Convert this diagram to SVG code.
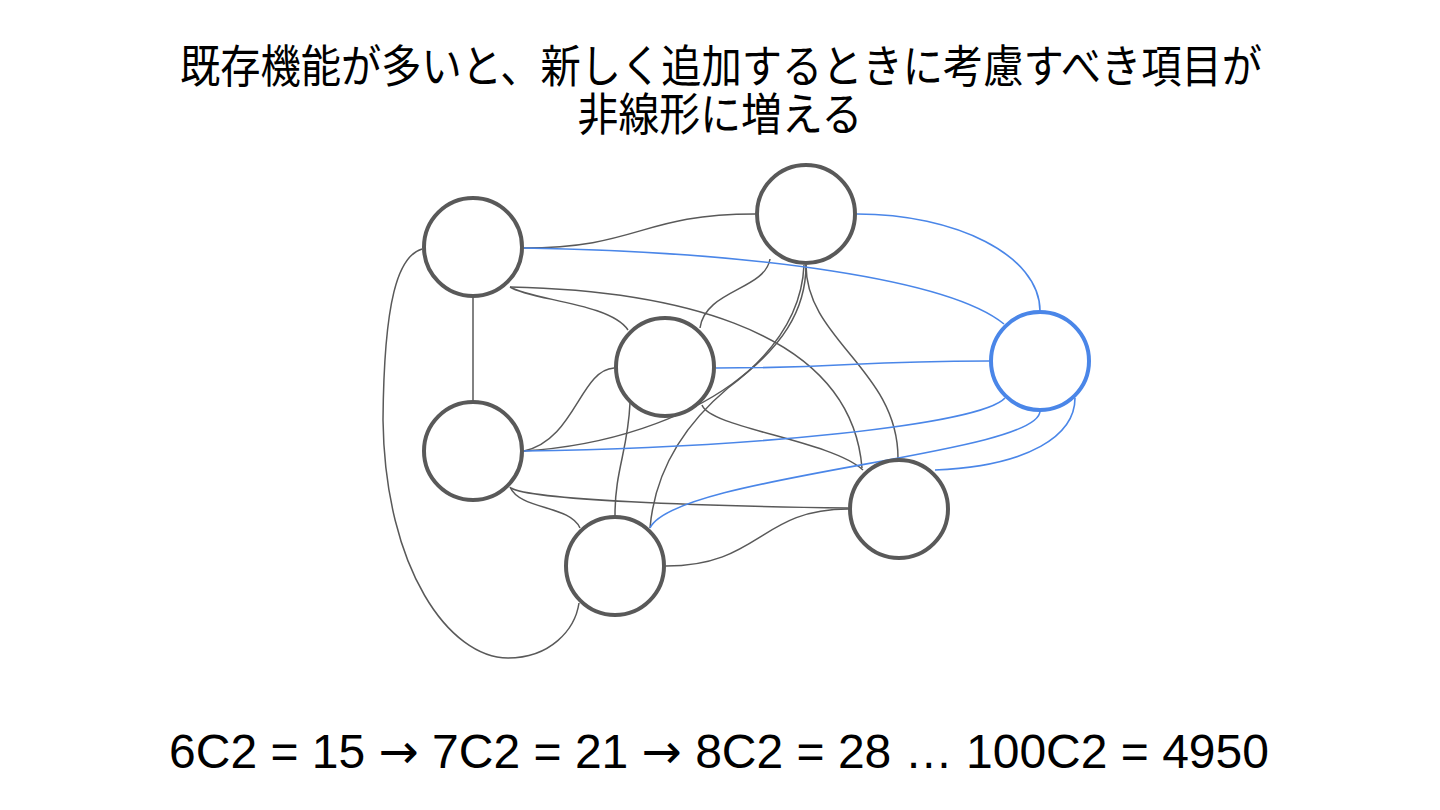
<svg xmlns="http://www.w3.org/2000/svg" width="1440" height="810" viewBox="0 0 1440 810">
<style>
.node{fill:#ffffff;stroke:#595959;stroke-width:4}
.hl{fill:#ffffff;stroke:#4a86e8;stroke-width:4}
.e{fill:none;stroke:#595959;stroke-width:1.5}
.b{fill:none;stroke:#4a86e8;stroke-width:1.6}
.title{font-family:"Noto Sans CJK JP","Noto Sans CJK SC",sans-serif;font-size:45px;fill:#000000;text-anchor:middle}
.formula{font-family:"Liberation Sans",Arial,sans-serif;font-size:48px;fill:#000000;text-anchor:middle}
.arr{font-family:"DejaVu Sans",sans-serif}
</style>
<rect width="1440" height="810" fill="#ffffff"/>
<g id="title">
<text class="title"><tspan x="721" y="83" textLength="1082" lengthAdjust="spacingAndGlyphs">既存機能が多いと、新しく追加するときに考慮すべき項目が</tspan><tspan x="720" y="131" textLength="285" lengthAdjust="spacingAndGlyphs">非線形に増える</tspan></text>
</g>
<g id="connectors">
<path class="e" d="M523,248 C640,248 640,214 755,214"/>
<path class="e" d="M473,298 L473,401"/>
<path class="e" d="M422,249 C398,256 384,300 383,420 C385,570 450,658 508,658 C550,658 575,630 579,603"/>
<path class="e" d="M510,287 C530,300 610,303 628,330"/>
<path class="e" d="M510,287 C650,290 850,320 862,468"/>
<path class="e" d="M770,259 C765,290 705,290 700,328"/>
<path class="e" d="M806,265 C806,310 782,348 732,384 C685,418 610,446 523,451"/>
<path class="e" d="M804,265 C802,312 776,352 728,388 C684,425 655,470 650,528"/>
<path class="e" d="M806,265 C806,340 898,370 898,458"/>
<path class="e" d="M614,368 C580,370 575,440 524,451"/>
<path class="e" d="M630,403 C628,450 615,470 615,515"/>
<path class="e" d="M702,405 C710,428 830,440 863,470"/>
<path class="e" d="M510,487 C520,510 570,505 580,528"/>
<path class="e" d="M511,488 C530,500 700,506 848,508"/>
<path class="e" d="M666,566 C760,566 760,509 848,509"/>
<path class="b" d="M523,248 C760,252 950,280 1004,324"/>
<path class="b" d="M857,214 C955,214 1040,255 1040,311"/>
<path class="b" d="M716,368 C850,368 850,361 989,361"/>
<path class="b" d="M523,451 C750,448 980,425 1005,398"/>
<path class="b" d="M650,528 C675,475 1040,455 1040,411"/>
<path class="b" d="M935,470 C1030,466 1075,435 1075,398"/>
</g>
<g id="node-a"><circle class="node" cx="473" cy="247" r="49"/></g>
<g id="node-b"><circle class="node" cx="806" cy="214" r="49"/></g>
<g id="node-c"><circle class="node" cx="665" cy="367" r="49"/></g>
<g id="node-d"><circle class="hl" cx="1040" cy="361" r="49"/></g>
<g id="node-e"><circle class="node" cx="473" cy="451" r="49"/></g>
<g id="node-f"><circle class="node" cx="899" cy="509" r="49"/></g>
<g id="node-g"><circle class="node" cx="615" cy="566" r="49"/></g>
<g id="formula">
<text class="formula" x="719" y="768">6C2 = 15 <tspan class="arr">→</tspan> 7C2 = 21 <tspan class="arr">→</tspan> 8C2 = 28 … 100C2 = 4950</text>
</g>
</svg>
